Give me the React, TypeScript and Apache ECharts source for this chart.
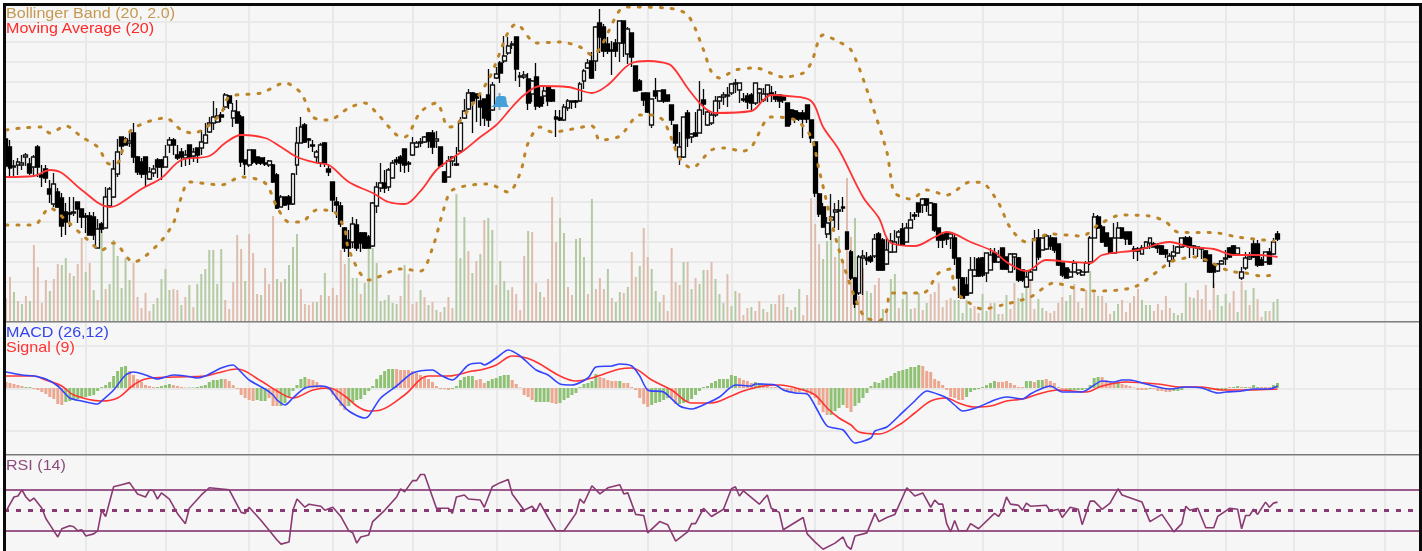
import React, { useEffect, useRef } from "react";
import * as echarts from "echarts";

const slotCount = 355;
const categories = Array.from({ length: slotCount }, (_, i) => String(i));
const monthStarts = [20, 40, 61, 82, 102, 123, 139, 161, 182, 203, 225, 245, 265, 284, 306, 323, 346];

// open, close, low, high
const candles = [
[182,155,153,189],[174,153,144,181],[154,155,144,161],[156,159,146,163],[156,158,151,166],[164,166,155,168],[157,148,146,163],[154,164,146,166],[174,154,144,176],[146,144,134,156],
[152,143,138,156],[132,127,118,141],[117,137,114,148],[129,114,113,133],[123,95,84,128],[109,99,86,118],[108,107,94,124],[108,109,105,124],[119,112,98,119],[112,104,93,112],
[105,104,88,108],[105,86,86,109],[104,86,81,109],[73,92,73,102],[97,92,88,99],[93,124,93,134],[115,132,114,134],[124,152,123,161],[147,169,144,182],[184,175,166,184],
[182,176,176,184],[178,180,174,188],[188,164,158,198],[164,149,146,165],[159,147,143,163],[164,147,134,164],[142,149,141,154],[148,152,144,156],[161,154,143,163],[161,154,141,162],
[154,164,154,176],[176,181,168,184],[181,176,166,183],[166,163,161,176],[169,164,154,173],[163,166,155,171],[176,164,156,176],[165,169,159,173],[173,166,158,173],[173,179,166,191],
[178,186,178,198],[189,198,188,204],[198,204,191,220],[199,205,198,213],[206,204,199,209],[214,226,211,228],[225,218,212,226],[203,210,194,218],[209,198,198,221],[204,159,154,206],
[161,157,146,161],[156,171,154,171],[171,159,157,171],[164,158,156,164],[163,158,156,163],[158,157,155,164],[156,160,154,161],[156,139,138,157],[146,113,112,148],[114,124,114,126],
[124,116,115,124],[124,117,111,126],[117,147,116,148],[156,178,146,194],[178,194,178,204],[196,179,178,198],[182,181,173,183],[176,175,169,181],[164,169,158,171],[158,176,154,178],
[178,158,154,179],[152,149,145,156],[139,121,109,139],[119,116,103,124],[115,97,94,119],[93,73,69,94],[81,73,64,91],[79,97,73,104],[96,73,70,102],[88,78,69,89],
[88,73,72,89],[84,73,73,86],[75,118,74,119],[115,134,108,139],[133,138,129,158],[138,133,128,151],[134,151,130,153],[143,158,143,161],[161,159,156,164],[164,158,149,166],
[172,156,148,172],[158,157,149,160],[166,178,165,184],[174,178,173,180],[178,179,174,183],[179,184,178,185],[188,180,173,189],[188,174,167,191],[180,182,173,190],[174,155,154,174],
[149,139,138,150],[144,160,144,165],[160,164,155,165],[157,156,155,174],[170,198,168,204],[203,210,202,222],[212,228,211,232],[228,220,188,229],[227,223,199,227],[220,214,195,227],
[222,203,195,222],[226,201,194,252],[211,236,210,239],[243,247,242,254],[258,248,238,260],[260,265,258,285],[268,275,266,284],[276,277,272,280],[284,252,240,284],[244,245,234,249],
[244,246,242,250],[242,218,211,248],[227,240,219,241],[244,215,211,258],[224,215,213,234],[225,230,217,234],[234,220,215,235],[231,220,219,232],[204,202,184,211],[203,201,200,211],
[201,214,200,217],[213,220,210,222],[220,219,212,220],[220,219,213,221],[220,237,219,239],[240,250,232,252],[253,258,252,262],[260,243,242,269],[260,294,250,295],[298,284,268,312],
[294,270,264,297],[277,270,267,284],[271,270,246,280],[278,270,264,282],[278,300,259,300],[300,278,264,300],[267,292,257,294],[288,264,254,288],[255,230,230,255],[240,231,230,242],
[228,221,215,228],[228,209,208,228],[196,222,193,222],[230,225,222,243],[220,230,219,231],[231,220,218,231],[226,220,219,226],[216,201,196,216],[196,178,174,196],[164,174,156,189],
[164,204,163,204],[208,183,174,211],[184,187,178,188],[188,185,184,209],[188,211,188,240],[221,217,206,232],[196,209,195,210],[198,206,196,208],[206,220,204,225],[220,224,212,225],
[224,226,216,229],[225,226,214,234],[228,237,226,238],[237,238,228,242],[231,238,218,238],[222,221,219,228],[225,219,212,228],[226,218,211,228],[218,238,216,238],[228,232,218,233],
[221,227,219,233],[227,236,219,236],[228,226,219,235],[225,222,219,230],[226,220,213,226],[224,221,218,226],[218,195,195,218],[211,202,196,212],[210,202,198,211],[208,202,200,209],
[208,202,183,211],[216,202,198,216],[201,183,178,201],[179,128,124,179],[127,107,104,128],[114,94,93,118],[87,98,83,104],[101,104,81,127],[109,111,93,118],[110,111,91,121],
[114,113,109,124],[89,72,71,89],[69,43,41,71],[43,17,13,44],[28,64,26,66],[63,65,26,71],[63,61,56,69],[64,60,58,66],[65,82,63,87],[87,51,50,89],
[81,51,50,83],[57,71,56,83],[69,80,68,88],[69,79,69,91],[84,89,76,91],[92,76,75,98],[79,93,79,98],[93,101,93,109],[106,105,101,109],[118,109,104,118],
[116,122,108,123],[122,116,109,123],[106,118,105,119],[117,91,89,118],[93,81,73,93],[86,81,73,88],[88,82,76,89],[83,87,72,88],[83,63,56,88],[63,43,23,63],
[43,23,23,44],[36,26,25,44],[28,51,27,64],[45,51,44,64],[62,45,44,64],[63,46,44,64],[48,68,39,68],[51,66,51,73],[68,59,58,73],[59,64,58,71],
[73,52,51,73],[64,52,51,64],[49,67,49,68],[64,67,51,68],[63,41,39,64],[51,41,39,52],[34,44,34,51],[41,49,40,51],[51,82,51,91],[83,64,61,92],
[71,83,71,83],[72,85,71,87],[83,75,71,86],[83,71,68,83],[77,56,55,77],[58,46,44,58],[53,43,43,53],[44,49,43,52],[49,58,49,61],[48,51,46,51],
[46,49,45,51],[49,58,48,60],[59,83,56,85],[83,104,83,108],[104,93,92,106],[94,79,78,96],[88,75,74,88],[83,68,67,83],[68,83,68,98],[83,93,83,99],
[93,83,82,93],[89,82,76,89],[89,77,76,89],[72,70,62,75],[72,70,60,74],[67,73,67,76],[73,79,72,80],[78,83,72,83],[77,74,74,79],[75,73,68,78],
[75,67,66,76],[71,67,63,72],[60,65,54,68],[65,69,59,76],[68,74,67,75],[74,83,73,83],[83,75,74,85],[83,74,63,85],[75,74,66,76],[73,74,64,74],
[72,73,62,74],[70,60,59,71],[66,49,48,66],[56,49,33,58],[50,57,49,58],[57,60,57,61],[62,63,56,71],[73,64,63,74],[75,67,66,76],[67,73,66,73],
[43,49,41,54],[53,63,51,69],[62,64,61,69],[77,64,63,82],[77,56,54,81],[61,56,55,64],[59,69,58,69],[69,57,56,73],[67,79,66,83],[87,82,80,90],
];

const volume = [
23,44,29,20,17,25,20,76,54,18, 41,30,42,57,56,63,48,45,57,83, 49,58,31,21,90,32,37,81,65,33, 63,41,58,24,13,28,10,17,23,42,
52,31,32,31,16,24,36,14,37,47, 52,71,71,37,72,21,12,39,86,72, 40,87,68,27,26,53,37,105,42,39, 42,56,74,87,32,17,16,19,19,26,
48,25,33,26,71,57,63,43,43,27, 38,73,73,58,20,21,26,18,17,25, 56,47,17,19,31,24,16,19,11,9, 14,24,13,127,63,104,70,48,60,67,
101,103,91,36,60,40,31,34,27,11, 65,90,89,38,29,24,42,124,79,103, 88,34,26,82,83,64,27,122,32,43, 32,52,23,19,29,28,34,69,44,55,
93,64,52,30,19,26,10,73,39,36, 59,59,32,43,37,51,51,59,42,27, 18,47,15,30,28,6,13,14,10,20, 12,9,17,17,26,27,14,11,14,32,
6,26,123,97,77,62,80,92,64,85, 58,143,84,103,25,53,30,28,36,43, 12,13,42,47,13,22,29,12,13,28, 11,18,27,29,38,14,21,23,21,21,
8,21,13,15,8,27,10,18,18,7, 7,26,12,38,23,28,40,40,12,22, 13,10,8,10,18,24,20,26,37,19, 13,31,50,28,25,25,18,7,10,17,
21,9,18,25,32,21,16,16,10,17, 11,25,13,8,6,8,38,24,23,31, 22,36,11,38,26,15,27,18,30,9, 40,31,16,33,22,4,10,10,19,22,
];
const volumeTone = (
"BBGBGBGBBB"+"BGBBGGBGBB"+"GBGBGBGGGG"+"GGBBBBBGGG"+"GGBBGBGBGG"+"GGGGGBBBBB"+"GBBBGBBBGB"+"GGGGBBBBGB"+
"GBBBBBGGGB"+"GGGGGGGGGB"+"GBBBGBGBGB"+"GBBGGGBGBG"+"BGGBGGGBBB"+"BGBBGBBBBG"+"GBBGGGBGBB"+"BGBGGBGBBG"+
"BBGGGBBBBB"+"GBGBGGBBGG"+"GBGGBBBGBB"+"GBGBBBGBGG"+"BBBBBGGGBG"+"BBBGBBGGBB"+"GBGGBGGGBG"+"BGBBBBBBGG"+
"GGGBBGGBGG"+"BGBBGGGBBG"+"GBBBBBGGBB"+"GBGBGBBBGG"+"BBBBBGGGBB"+"BBBGGGGBGB"+"BBBBGGGBBG"+"BGBGBBGBGG"
);

const histogram = [
6,5,4,3,2,1,1,-1,-2,-4, -6,-9,-11,-16,-17,-14,-13,-12,-11,-10, -9,-8,-7,-3,1,3,6,12,17,21, 22,17,13,9,6,3,2,1,1,2,
3,4,3,2,1,0.5,0.5,0.5,1,2, 3,6,8,8,9,9,7,3,-1,-7, -10,-12,-13,-12,-13,-13,-10,-18,-18,-18, -15,-10,-3,3,9,11,9,8,6,3,
0.5,-2,-7,-12,-18,-22,-18,-14,-12,-11, -7,-3,2,9,13,17,19,19,19,18, 18,18,17,15,13,11,9,6,2,-1, -1,-2,-1,2,8,11,12,12,8,9,
5,7,9,10,12,13,13,8,4,0.5, -7,-9,-12,-14,-14,-14,-14,-15,-16,-15, -12,-10,-7,-5,1,4,5,7,14,11, 10,8,7,7,7,5,5,1,-2,-10,
-16,-19,-17,-15,-14,-12,-10,-10,-16,-16, -15,-13,-11,-7,-3,1,2,5,7,9, 9,9,13,12,10,8,7,5,6,5, 3,2,1,1,0.5,-2,-3,-4,-5,-4,
-2,-5,-7,-10,-17,-24,-27,-27,-23,-20, -17,-20,-24,-18,-15,-10,-5,2,6,5, 8,10,12,15,17,18,19,21,21,23, 22,17,16,9,7,3,-2,-9,-10,-12,
-12,-9,-4,-2,-1,1,3,5,7,6, 6,7,5,3,1,1,7,7,6,8, 8,9,7,5,1,-1,-2,-2,-2,-2, -2,-1,3,10,11,11,8,6,5,5,
4,3,2,0.5,-2,-2,-2,-1,-1,-3, -3,-4,-4,-3,-3,-2,1,0.5,1,1, 1,-1,-2,-2,-2,-2,-2,1,1,2, 1,1,1,3,1,1,1,1,3,5,
];
const histogramTone = (
"BBBBBGGBBB"+"BBBBBGGGGG"+"GGGGGGGGGG"+"GBBBBBBBGG"+"GGBBBBGGGG"+"GGGGGBBBBB"+"BBBGGGBBBG"+"GGGGGGBBBB"+
"BBBBBBGGGG"+"GGGGGGGGBB"+"BBBBBBBBBB"+"BBGGGGGGBB"+"BGGGGGGBBB"+"BBBGGGGBBG"+"GGGGGGGGGB"+"BBBBGBBBBB"+
"BBGGGGGBBG"+"GGGGGGGGGG"+"GGGGBBBBGG"+"BBBBGBBBBB"+"GBBBBBBGGG"+"GBBGGGGGGG"+"GGGGGGGGGG"+"BBBBBBBBBB"+
"BGGGGGGGGB"+"BBBBBBGGBG"+"GBBBBBBGGG"+"GGGGGBBBBG"+"BBBBBBBGBB"+"BBBGGGGBBB"+"BGGBGGGBGG"+"BGBGGBBBGG"
);

// [session, value] readings
const movingAverage = [[0,144],[7,145],[11,151],[14,148],[19,131],[26,114],[28,116],[34,132],[39,143],[44,161],[51,165],[55,178],[59,186],[65,183],[69,174],[73,164],[78,158],[81,156],[86,139],[92,128],[96,119],[100,117],[104,130],[108,151],[112,163],[115,171],[119,184],[123,196],[127,214],[130,226],[134,235],[141,234],[147,228],[151,236],[157,258],[161,260],[164,259],[167,255],[171,233],[175,214],[178,208],[187,210],[190,221],[192,226],[196,225],[202,220],[205,194],[209,171],[215,124],[219,103],[222,78],[228,75],[233,84],[236,89],[242,79],[248,69],[251,59],[256,50],[261,61],[267,59],[272,58],[275,66],[284,71],[292,79],[297,74],[303,72],[308,66],[314,66],[319,64]];
const upperBand = [[0,191],[4,193],[9,194],[11,188],[15,195],[19,184],[23,174],[26,157],[28,158],[30,181],[32,193],[40,203],[44,191],[47,188],[50,193],[54,208],[56,224],[64,228],[70,238],[74,228],[77,204],[81,201],[86,213],[90,218],[93,208],[98,186],[100,184],[104,209],[108,218],[111,194],[113,196],[121,241],[126,289],[128,297],[133,278],[139,279],[144,274],[147,266],[154,311],[156,314],[166,313],[171,306],[175,271],[177,249],[179,243],[183,251],[188,253],[195,244],[200,248],[202,258],[205,286],[209,279],[212,271],[216,231],[221,169],[222,144],[223,128],[227,122],[231,131],[236,126],[242,139],[245,138],[249,118],[252,93],[256,79],[262,87],[270,85],[274,96],[280,106],[287,105],[291,99],[294,89],[304,88],[309,84],[318,80]];
const lowerBand = [[0,96],[7,96],[11,113],[15,101],[20,83],[24,71],[27,78],[32,59],[38,76],[42,98],[44,124],[46,139],[54,136],[59,144],[65,138],[68,114],[71,99],[74,99],[78,111],[82,110],[85,91],[86,71],[91,41],[99,52],[104,50],[107,73],[110,114],[112,131],[121,137],[126,129],[129,148],[131,178],[134,194],[137,189],[147,195],[149,181],[154,185],[159,206],[162,206],[165,200],[169,163],[172,153],[177,171],[180,173],[185,170],[187,174],[192,204],[198,201],[202,184],[204,151],[209,71],[215,6],[219,0],[221,11],[222,28],[230,28],[234,48],[237,52],[238,31],[241,20],[245,12],[250,16],[257,24],[263,38],[268,33],[273,30],[283,34],[290,53],[292,59],[298,64],[307,50],[311,48],[315,45],[318,46]];
const macd = [[0,16],[4,13],[7,12],[10,9],[13,2],[16,-10],[19,-13],[23,-16],[24,-13],[27,-2],[30,13],[32,16],[35,13],[38,9],[42,13],[45,12],[48,10],[50,12],[54,20],[57,23],[58,20],[61,8],[65,-1],[67,-7],[68,-12],[70,-17],[72,-10],[75,0],[79,2],[81,0],[83,-10],[86,-23],[90,-30],[91,-28],[94,-10],[98,2],[102,15],[107,18],[109,13],[112,8],[116,23],[119,25],[120,23],[123,30],[126,38],[129,32],[133,18],[136,13],[139,4],[142,3],[146,10],[148,21],[152,22],[154,24],[157,22],[159,12],[161,-2],[165,-4],[169,-18],[172,-21],[176,-15],[179,-9],[183,3],[187,2],[188,4],[193,3],[195,-2],[198,-5],[201,-6],[203,-18],[206,-38],[210,-42],[213,-55],[217,-50],[218,-43],[221,-39],[224,-28],[228,-13],[231,-3],[235,-8],[236,-10],[238,-17],[240,-23],[244,-19],[248,-12],[251,-9],[255,-11],[257,-6],[259,-2],[262,2],[265,-4],[270,-4],[275,7],[278,6],[280,8],[282,8],[286,4],[292,-1],[296,1],[300,0],[304,-5],[306,-4],[310,-3],[313,-1],[317,-1],[319,2]];
const signal = [[0,12],[7,12],[10,8],[14,2],[17,-7],[24,-13],[28,-10],[32,3],[35,9],[42,11],[50,12],[53,15],[58,19],[64,7],[68,-3],[72,-10],[77,-2],[81,0],[85,-8],[88,-18],[91,-23],[94,-22],[100,-7],[106,12],[111,12],[117,17],[119,18],[123,23],[127,32],[132,28],[139,12],[143,7],[147,10],[150,14],[154,19],[157,20],[162,8],[167,-2],[172,-15],[177,-15],[182,-8],[185,-3],[190,2],[194,3],[200,-2],[203,-7],[206,-20],[209,-30],[212,-37],[214,-44],[219,-46],[224,-37],[228,-25],[232,-13],[236,-10],[239,-15],[243,-19],[247,-18],[251,-13],[255,-11],[259,-6],[264,-2],[271,-4],[275,2],[281,6],[289,4],[295,1],[300,1],[305,-2],[312,-2],[319,-1]];
const rsi = [[0,49],[1,56],[2,63],[3,64],[4,70],[5,63],[6,59],[7,62],[9,52],[10,42],[11,36],[12,30],[13,24],[14,32],[16,35],[17,34],[18,30],[19,31],[20,25],[22,27],[23,30],[24,50],[25,44],[27,73],[29,75],[31,77],[33,66],[35,63],[36,70],[37,69],[38,61],[39,67],[41,61],[43,47],[45,37],[46,52],[49,65],[51,72],[56,70],[59,48],[60,47],[61,53],[64,40],[68,21],[69,17],[71,19],[72,50],[73,61],[75,53],[76,56],[79,54],[80,50],[82,53],[84,44],[86,30],[87,28],[88,18],[89,24],[91,26],[92,39],[95,50],[98,63],[99,71],[100,68],[102,79],[103,79],[104,85],[105,85],[106,74],[108,52],[111,52],[112,47],[113,63],[115,65],[116,61],[119,60],[120,53],[122,73],[124,77],[126,80],[127,66],[130,50],[132,54],[133,49],[134,57],[136,43],[138,30],[140,30],[143,47],[144,61],[145,57],[147,74],[149,66],[151,72],[154,75],[155,66],[156,67],[158,46],[160,45],[161,28],[164,39],[166,36],[168,20],[171,29],[172,37],[173,37],[175,52],[177,44],[180,51],[182,71],[183,73],[184,64],[185,69],[189,56],[191,65],[192,52],[194,48],[195,31],[200,43],[201,27],[203,19],[205,12],[208,18],[210,24],[211,15],[212,12],[213,25],[216,28],[218,47],[219,39],[221,43],[223,46],[226,72],[228,64],[230,67],[232,53],[233,60],[234,56],[235,56],[236,37],[237,29],[238,40],[239,30],[241,30],[242,37],[244,32],[248,47],[249,44],[250,50],[251,63],[252,56],[254,55],[255,50],[256,57],[257,54],[261,55],[262,49],[264,51],[265,43],[267,53],[269,51],[270,36],[272,59],[273,59],[275,51],[277,57],[279,71],[280,65],[285,58],[287,39],[290,46],[293,29],[295,37],[296,54],[297,50],[299,52],[301,33],[303,33],[304,44],[307,52],[309,51],[310,32],[311,45],[312,45],[313,51],[314,46],[316,58],[317,53],[318,57],[319,58]];
const rsiLevels = [70, 30];
const rsiMid = 50;

const legendTexts = [
  { text: "Bollinger Band (20, 2.0)", y: 13, fill: "#c49a52" },
  { text: "Moving Average (20)", y: 28, fill: "#ff2a2a" },
  { text: "MACD (26,12)", y: 332, fill: "#3344ee" },
  { text: "Signal (9)", y: 347, fill: "#ff3333" },
  { text: "RSI (14)", y: 465, fill: "#8f4a7d" },
];

const BAND_DOTS = [2, 9];
const LEVEL_DOTS = [5, 7];
const GREEN_V = "#b3caa4", BROWN_V = "#dfbdae", GREEN_H = "#8fc174", BROWN_H = "#eba78f";
const GRID_LINE = "#e9e9e9";

export default function App() {
  const ref = useRef<HTMLDivElement>(null);
  useEffect(() => {
    const chart = echarts.init(ref.current!, undefined, { renderer: "svg" });
    const vLine = {
      show: true,
      alignWithLabel: true,
      interval: (i: number) => monthStarts.includes(i),
      lineStyle: { color: GRID_LINE, width: 2 },
    };
    const hiddenParts = { axisLine: { show: false }, axisTick: { show: false }, axisLabel: { show: false } };
    const xAxis = (gridIndex: number, split: boolean) => ({
      type: "category",
      gridIndex,
      data: categories,
      boundaryGap: true,
      ...hiddenParts,
      splitLine: split ? vLine : { show: false },
    });
    const gridBase = { left: 4, width: 1415 };
    const line = (data: number[][], color: string, width: number, x: number, y: number, z: number, smooth: number, extra = {}) => ({
      type: "line", data, xAxisIndex: x, yAxisIndex: y, showSymbol: false, symbol: "none", z, silent: true, smooth,
      lineStyle: { color, width, ...(extra as object) },
    });
    chart.setOption({
      animation: false,
      backgroundColor: "transparent",
      grid: [
        { ...gridBase, top: 5, height: 316, show: true, backgroundColor: "#f6f6f6", borderWidth: 0 },
        { ...gridBase, top: 322, height: 133, show: true, backgroundColor: "#f6f6f6", borderWidth: 0 },
        { ...gridBase, top: 456, height: 95, show: true, backgroundColor: "#f6f6f6", borderWidth: 0 },
        { ...gridBase, top: 22, height: 300 },
        { ...gridBase, top: 346, height: 85 },
      ],
      xAxis: [xAxis(0, true), xAxis(1, true), xAxis(2, true), xAxis(3, false), xAxis(4, false)],
      yAxis: [
        { type: "value", gridIndex: 0, min: 0, max: 316, ...hiddenParts, splitLine: { show: false } },
        { type: "value", gridIndex: 1, min: -67, max: 66, ...hiddenParts, splitLine: { show: false } },
        { type: "value", gridIndex: 2, min: 10.3, max: 103, ...hiddenParts, splitLine: { show: false } },
        { type: "value", gridIndex: 3, min: 0, max: 300, interval: 20, ...hiddenParts, splitLine: { show: true, lineStyle: { color: GRID_LINE, width: 2 } } },
        { type: "value", gridIndex: 4, min: 0, max: 2, interval: 1, ...hiddenParts, splitLine: { show: true, lineStyle: { color: GRID_LINE, width: 2 } } },
      ],
      series: [
        {
          type: "bar", xAxisIndex: 0, yAxisIndex: 0, barWidth: 2, z: 2, silent: true,
          data: volume.map((v, i) => ({ value: v, itemStyle: { color: volumeTone[i] === "G" ? GREEN_V : BROWN_V } })),
        },
        {
          type: "candlestick", xAxisIndex: 0, yAxisIndex: 0, barWidth: 4.4, z: 3, silent: true, data: candles,
          itemStyle: { color: "#ffffff", color0: "#000000", borderColor: "#111111", borderColor0: "#000000", borderWidth: 1.3 },
        },
        line(upperBand, "#bd8428", 3, 0, 0, 4, 0.3, { type: BAND_DOTS, cap: "round" }),
        line(lowerBand, "#bd8428", 3, 0, 0, 4, 0.3, { type: BAND_DOTS, cap: "round" }),
        line(movingAverage, "#ff3333", 1.8, 0, 0, 5, 0.35),
        {
          type: "bar", xAxisIndex: 1, yAxisIndex: 1, barWidth: 3, z: 2, silent: true,
          data: histogram.map((v, i) => ({ value: v, itemStyle: { color: histogramTone[i] === "G" ? GREEN_H : BROWN_H } })),
        },
        line(signal, "#ff3333", 1.6, 1, 1, 4, 0.35),
        line(macd, "#3344ff", 1.6, 1, 1, 5, 0.25),
        {
          ...line(rsi, "#8a3a72", 1.6, 2, 2, 5, 0),
          markLine: {
            silent: true, symbol: "none", animation: false, label: { show: false },
            data: [
              ...rsiLevels.map((v) => ({ yAxis: v, lineStyle: { color: "#9a5a8c", width: 2, type: "solid" } })),
              { yAxis: rsiMid, lineStyle: { color: "#8a3a72", width: 3, type: LEVEL_DOTS } },
            ],
          },
        },
      ],
      graphic: [
        { type: "rect", z: 20, silent: true, shape: { x: 6, y: 321, width: 1413, height: 1.5 }, style: { fill: "#808080" } },
        { type: "rect", z: 20, silent: true, shape: { x: 6, y: 454, width: 1413, height: 1.5 }, style: { fill: "#777777" } },
        { type: "rect", z: 21, silent: true, shape: { x: 3, y: 3, width: 1419, height: 3 }, style: { fill: "#0a0a0a" } },
        { type: "rect", z: 21, silent: true, shape: { x: 3, y: 3, width: 3, height: 548 }, style: { fill: "#0a0a0a" } },
        { type: "rect", z: 21, silent: true, shape: { x: 1419, y: 3, width: 3, height: 548 }, style: { fill: "#0a0a0a" } },
        ...legendTexts.map((t) => ({
          type: "text", x: 6, y: t.y, z: 22, silent: true, scaleX: 1.15,
          style: { text: t.text, fill: t.fill, font: "14px 'Liberation Sans', Arial, sans-serif", textVerticalAlign: "middle", textBaseline: "middle" },
        })),
        {
          type: "polygon", z: 22, silent: true,
          shape: { points: [[491, 107], [495, 104], [496, 97], [498, 96], [504, 96], [506, 97], [507, 104], [509, 107]] },
          style: { fill: "#48a0d8" },
        },
        { type: "rect", z: 21, silent: true, shape: { x: 498.5, y: 93, width: 2, height: 17 }, style: { fill: "#8aa4b4" } },
      ],
    });
    return () => chart.dispose();
  }, []);
  return <div ref={ref} style={{ position: "fixed", left: 0, top: 0, width: 1422, height: 551 }} />;
}
